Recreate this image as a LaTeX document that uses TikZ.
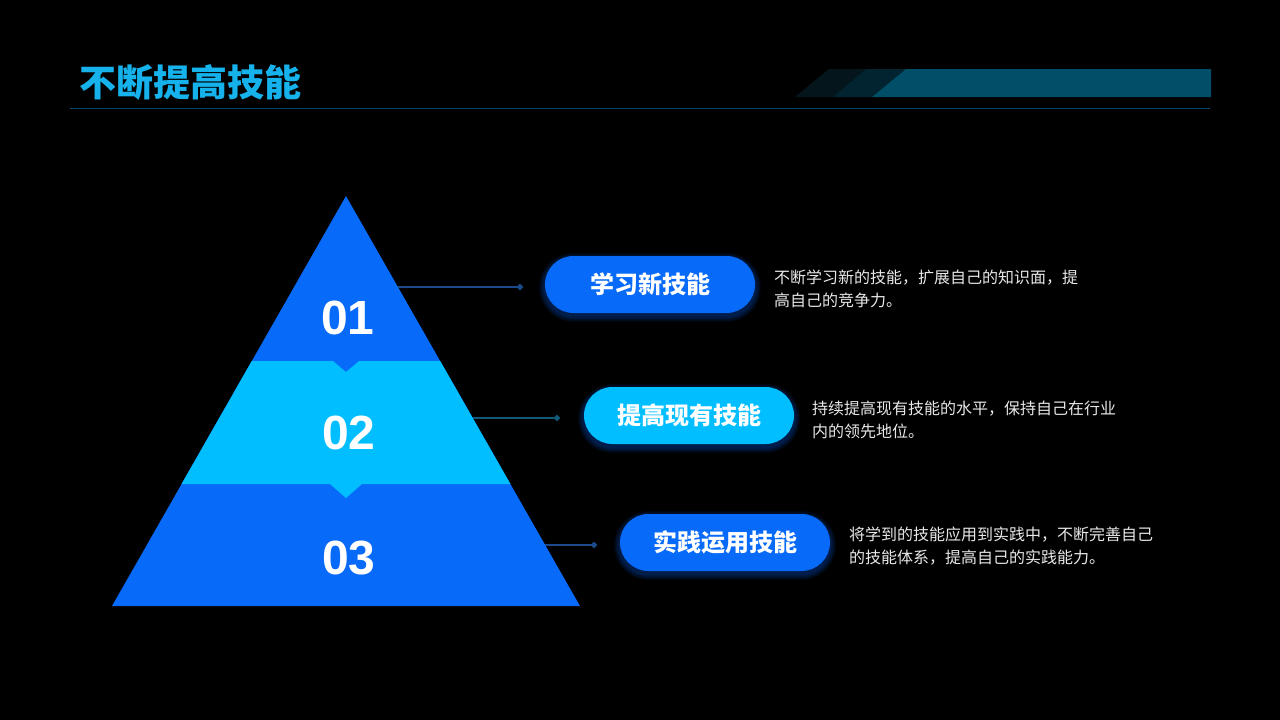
\documentclass[tikz,border=0pt]{standalone}
\usepackage{fontspec}
\setmainfont{Liberation Sans}
\newfontfamily\cjk{Noto Sans CJK SC}
\usetikzlibrary{shapes.geometric}
\definecolor{dblue}{RGB}{8,106,248}
\definecolor{lblue}{RGB}{0,190,255}
\definecolor{titlec}{RGB}{22,178,236}
\definecolor{barmain}{RGB}{0,78,104}
\definecolor{barA}{RGB}{4,22,28}
\definecolor{barB}{RGB}{2,36,48}
\definecolor{rulec}{RGB}{8,72,100}
\definecolor{connA}{RGB}{26,74,140}
\definecolor{connB}{RGB}{18,88,120}
\definecolor{desc}{RGB}{232,232,232}
\definecolor{glow}{RGB}{0,90,220}
\tikzset{
  numtxt/.style={text=white, font=\fontsize{48}{48}\selectfont\bfseries, inner sep=0pt},
  pill/.style={minimum width=210pt, minimum height=57pt, rounded corners=28.5pt, inner sep=0pt,
    text=white, font=\cjk\fontsize{24}{24}\selectfont\bfseries},
  desctxt/.style={text=desc, font=\cjk\fontsize{16}{23}\selectfont, align=left, anchor=west, inner sep=0pt},
  conn/.style={line width=1.3pt},
  dmark/.style={diamond, minimum size=7pt, inner sep=0pt},
}
\newcommand{\glowbox}[4]{% x1 y1 x2 y2
  \foreach \g in {1,2,...,6}{
    \fill[glow, opacity=0.07] ({#1-\g},{#2+3-\g}) [rounded corners={28.5+\g}] rectangle ({#3+\g},{#4+3+\g});
  }
}
\begin{document}
\begin{tikzpicture}[x=1pt,y=-1pt]
\useasboundingbox (0,0) rectangle (1280,720);
\fill[black] (0,0) rectangle (1280,720);

% title
\node[anchor=west, inner sep=0pt, text=titlec, font=\cjk\fontsize{37}{37}\selectfont\bfseries] (title) at (79,82) {不断提高技能};
\draw[rulec, line width=1pt] (70,108) -- (1210,108);
% top bar
\fill[barA] (795,97) -- (829,69) -- (866,69) -- (833,97) -- cycle;
\fill[barB] (833,97) -- (866,69) -- (906,69) -- (872,97) -- cycle;
\fill[barmain] (872,97) -- (906,69) -- (1211,69) -- (1211,97) -- cycle;

% pyramid
\fill[dblue] (346,196) -- (580,606) -- (112,606) -- cycle;
\fill[lblue] (251.8,361) -- (333,361) -- (346,372) -- (359,361) -- (440.2,361)
   -- (510.4,484) -- (362,484) -- (346,498) -- (330,484) -- (181.6,484) -- cycle;
\node[numtxt] (n1) at (348,318) {01};
\node[numtxt] (n2) at (349,433) {02};
\node[numtxt] (n3) at (349,558) {03};

% connectors
\coordinate (e1) at (398,287);
\coordinate (m1) at (520,287);
\coordinate (e2) at (473,418);
\coordinate (m2) at (557,418);
\coordinate (e3) at (545,545);
\coordinate (m3) at (594,545);
\draw[conn, connA] (e1) -- (m1);
\node[dmark, fill=connA] (k1) at (m1) {};
\draw[conn, connB] (e2) -- (m2);
\node[dmark, fill=connB] (k2) at (m2) {};
\draw[conn, connA] (e3) -- (m3);
\node[dmark, fill=connA] (k3) at (m3) {};

% pills
\glowbox{545}{256}{755}{313}
\glowbox{584}{387}{794}{444}
\glowbox{620}{514}{830}{571}
\node[pill, fill=dblue] (p1) at (650,284.5) {学习新技能};
\node[pill, fill=lblue] (p2) at (689,415.5) {提高现有技能};
\node[pill, fill=dblue] (p3) at (725,542.5) {实践运用技能};

% descriptions
\node[desctxt] (d1) at (774,288.5) {不断学习新的技能，扩展自己的知识面，提\\高自己的竞争力。};
\node[desctxt] (d2) at (812,419.5) {持续提高现有技能的水平，保持自己在行业\\内的领先地位。};
\node[desctxt] (d3) at (849,546.5) {将学到的技能应用到实践中，不断完善自己\\的技能体系，提高自己的实践能力。};
\end{tikzpicture}
\end{document}
